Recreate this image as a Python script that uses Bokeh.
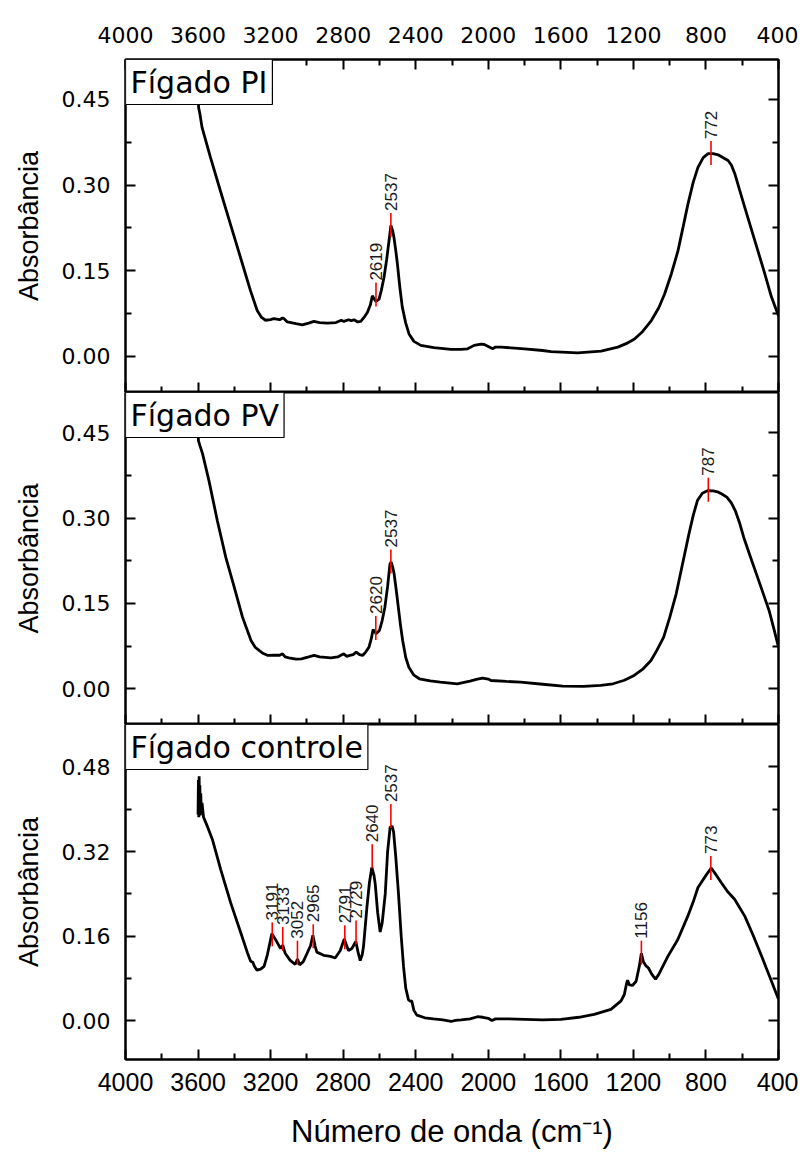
import numpy as np
from bokeh.plotting import figure
from bokeh.models import (Range1d, LinearAxis, FixedTicker, PrintfTickFormatter, Label,
                          CustomLabelingPolicy)
from bokeh.layouts import column
from bokeh.embed import file_html
from bokeh.resources import INLINE
from bokeh.core.properties import value

# ---------------- data ----------------
x_major = [4000, 3600, 3200, 2800, 2400, 2000, 1600, 1200, 800, 400]
x_minor = [3800, 3400, 3000, 2600, 2200, 1800, 1400, 1000, 600]

y_major_a = [0.0, 0.15, 0.30, 0.45]
y_minor_a = [0.075, 0.225, 0.375]
y_major_c = [0.0, 0.16, 0.32, 0.48]
y_minor_c = [0.08, 0.24, 0.40]

names = ["Fígado PI", "Fígado PV", "Fígado controle"]
x_title = "Número de onda (cm⁻¹)"
y_title = "Absorbância"

wn_pi = [3600, 3597, 3590, 3578, 3532, 3477, 3422, 3366, 3311, 3274, 3250, 3228, 3200, 3182,
         3150, 3135, 3127, 3108, 3060, 3025, 2990, 2961, 2930, 2887, 2840, 2810, 2796, 2770,
         2755, 2740, 2720, 2703, 2685, 2666, 2650, 2639, 2628, 2619, 2602, 2590, 2575, 2560,
         2547, 2537, 2527, 2520, 2510, 2501, 2488, 2474, 2455, 2437, 2410, 2372, 2300, 2206,
         2150, 2114, 2078, 2040, 2022, 2000, 1976, 1960, 1930, 1801, 1700, 1654, 1507, 1378,
         1286, 1240, 1194, 1150, 1101, 1060, 1028, 990, 954, 925, 899, 870, 844, 815, 788,
         760, 733, 700, 678, 660, 641, 615, 586, 531, 475, 440, 411, 400]
abs_pi = [0.480, 0.436, 0.425, 0.401, 0.349, 0.290, 0.232, 0.173, 0.115, 0.080, 0.068, 0.063,
          0.064, 0.066, 0.064, 0.067, 0.066, 0.060, 0.057, 0.055, 0.058, 0.061, 0.059, 0.058,
          0.059, 0.063, 0.061, 0.064, 0.062, 0.064, 0.060, 0.061, 0.068, 0.077, 0.090, 0.106,
          0.100, 0.096, 0.100, 0.115, 0.138, 0.170, 0.203, 0.229, 0.220, 0.208, 0.185, 0.162,
          0.122, 0.086, 0.058, 0.039, 0.026, 0.019, 0.015, 0.012, 0.012, 0.013, 0.019, 0.021,
          0.0205, 0.017, 0.013, 0.016, 0.016, 0.013, 0.010, 0.008, 0.006, 0.009, 0.016, 0.022,
          0.030, 0.043, 0.0625, 0.085, 0.109, 0.145, 0.185, 0.228, 0.267, 0.305, 0.331, 0.348,
          0.355, 0.355, 0.353, 0.347, 0.343, 0.335, 0.320, 0.292, 0.261, 0.203, 0.144, 0.105,
          0.080, 0.071]

wn_pv = [3600, 3598, 3590, 3575, 3540, 3494, 3447, 3401, 3355, 3308, 3285, 3262, 3240, 3215,
         3180, 3150, 3134, 3120, 3099, 3060, 3030, 2990, 2960, 2930, 2867, 2830, 2797, 2780,
         2763, 2745, 2728, 2710, 2693, 2675, 2658, 2645, 2635, 2625, 2619, 2600, 2585, 2570,
         2555, 2542, 2535, 2527, 2519, 2508, 2496, 2484, 2472, 2455, 2438, 2410, 2380, 2320,
         2264, 2210, 2171, 2140, 2101, 2060, 2031, 2000, 1985, 1900, 1822, 1700, 1590, 1474,
         1380, 1312, 1250, 1196, 1150, 1103, 1070, 1033, 1000, 964, 930, 894, 870, 847, 820,
         789, 760, 731, 710, 685, 660, 638, 615, 592, 557, 522, 487, 452, 425, 400]
abs_pv = [0.480, 0.4365, 0.428, 0.413, 0.366, 0.296, 0.231, 0.179, 0.126, 0.085, 0.073, 0.067,
          0.062, 0.0586, 0.059, 0.059, 0.0615, 0.056, 0.0545, 0.052, 0.0527, 0.056, 0.0586,
          0.056, 0.0545, 0.056, 0.0615, 0.057, 0.0586, 0.060, 0.0645, 0.060, 0.0586, 0.065,
          0.073, 0.088, 0.104, 0.100, 0.097, 0.1025, 0.120, 0.1435, 0.180, 0.2197, 0.2227,
          0.214, 0.202, 0.175, 0.1435, 0.112, 0.085, 0.055, 0.038, 0.024, 0.0176, 0.014,
          0.0117, 0.010, 0.0088, 0.011, 0.0135, 0.017, 0.0187, 0.017, 0.0146, 0.013, 0.0117,
          0.008, 0.0047, 0.0041, 0.006, 0.0088, 0.015, 0.0234, 0.034, 0.0498, 0.068, 0.0908,
          0.125, 0.167, 0.218, 0.272, 0.305, 0.331, 0.344, 0.3486, 0.348, 0.3457, 0.342, 0.337,
          0.327, 0.313, 0.292, 0.2666, 0.234, 0.202, 0.170, 0.1377, 0.105, 0.073]

wn_ct = [3600, 3598, 3596, 3594, 3592, 3590, 3588, 3585, 3582, 3578, 3570, 3549, 3521, 3475,
         3420, 3365, 3328, 3310, 3298, 3290, 3275, 3255, 3236, 3218, 3193, 3165, 3145, 3133,
         3120, 3092, 3064, 3052, 3040, 3020, 3000, 2980, 2967, 2955, 2945, 2908, 2870, 2844,
         2816, 2794, 2771, 2752, 2730, 2718, 2706, 2695, 2688, 2669, 2655, 2642, 2630, 2623,
         2610, 2596, 2585, 2568, 2555, 2541, 2530, 2522, 2510, 2495, 2480, 2467, 2455, 2440,
         2428, 2422, 2410, 2394, 2350, 2302, 2250, 2205, 2180, 2150, 2100, 2060, 2030, 2000,
         1980, 1960, 1900, 1800, 1700, 1600, 1500, 1416, 1324, 1268, 1250, 1238, 1232, 1222,
         1205, 1185, 1167, 1156, 1145, 1130, 1117, 1098, 1078, 1060, 1047, 1010, 955, 900, 870,
         844, 800, 771, 740, 715, 680, 642, 586, 540, 494, 450, 400]
abs_ct = [0.390, 0.455, 0.385, 0.462, 0.395, 0.445, 0.388, 0.430, 0.392, 0.412, 0.385, 0.368,
          0.343, 0.286, 0.223, 0.167, 0.129, 0.113, 0.111, 0.104, 0.096, 0.098, 0.103, 0.125,
          0.165, 0.149, 0.137, 0.143, 0.128, 0.1145, 0.107, 0.117, 0.106, 0.112, 0.127, 0.142,
          0.162, 0.142, 0.130, 0.124, 0.122, 0.119, 0.133, 0.155, 0.133, 0.137, 0.150, 0.130,
          0.114, 0.125, 0.140, 0.215, 0.262, 0.290, 0.275, 0.258, 0.205, 0.168, 0.185, 0.240,
          0.320, 0.366, 0.368, 0.357, 0.310, 0.240, 0.160, 0.102, 0.062, 0.040, 0.037, 0.038,
          0.020, 0.011, 0.006, 0.004, 0.002, -0.001, 0.001, 0.002, 0.004, 0.008, 0.007, 0.005,
          0.001, 0.004, 0.004, 0.003, 0.002, 0.003, 0.007, 0.0126, 0.022, 0.038, 0.050, 0.070,
          0.077, 0.068, 0.067, 0.075, 0.104, 0.128, 0.112, 0.104, 0.100, 0.088, 0.079, 0.088,
          0.097, 0.122, 0.154, 0.198, 0.225, 0.252, 0.275, 0.289, 0.274, 0.261, 0.244, 0.230,
          0.198, 0.162, 0.123, 0.085, 0.041]

pk_pi_wn = [2619, 2537, 772]
pk_pi_ab = [0.108, 0.230, 0.356]
pk_pi_lb = ["2619", "2537", "772"]

pk_pv_wn = [2620, 2537, 787]
pk_pv_ab = [0.107, 0.224, 0.350]
pk_pv_lb = ["2620", "2537", "787"]

pk_ct_wn = [3191, 3133, 3052, 2965, 2791, 2729, 2640, 2537, 1156, 773]
pk_ct_ab = [0.1635, 0.155, 0.129, 0.160, 0.158, 0.167, 0.311, 0.387, 0.129, 0.289]
pk_ct_lb = ["3191", "3133", "3052", "2965", "2791", "2729", "2640", "2537", "1156", "773"]

HIDE_CODE = "for (const i of indices) { indices.unset(i) }\nreturn indices"


def style_axis(ax, labels, font="DejaVu Sans", size="22px", standoff=14):
    ax.axis_line_width = 2
    ax.axis_line_color = "black"
    ax.major_tick_line_width = 2
    ax.minor_tick_line_width = 2
    ax.major_tick_line_color = "black"
    ax.minor_tick_line_color = "black"
    ax.major_tick_in = 10
    ax.major_tick_out = 0
    ax.minor_tick_in = 6
    ax.minor_tick_out = 0
    if labels:
        ax.major_label_text_font = font
        ax.major_label_text_font_size = size
        ax.major_label_text_color = "black"
        ax.major_label_standoff = standoff
    else:
        ax.major_label_text_font_size = "0px"
        ax.major_label_standoff = 0
        ax.major_label_policy = CustomLabelingPolicy(code=HIDE_CODE)


def make_panel(wn, ab, pwn, pab, plb, name, yr, ymaj, ymin, height, btop, bbot, first, last):
    p = figure(width=798, height=height, x_range=Range1d(4000, 400), y_range=Range1d(*yr),
               output_backend="svg", toolbar_location=None,
               min_border_left=125, min_border_right=20,
               min_border_top=btop, min_border_bottom=bbot)
    p.grid.visible = False
    p.outline_line_color = "black"
    p.outline_line_width = 2
    p.background_fill_color = "white"
    p.border_fill_color = "white"

    p.line(wn, ab, line_color="black", line_width=2.8)
    p.scatter(pwn, pab, marker="dash", angle=np.pi / 2, size=24,
              line_color="red", line_width=1.6)
    p.text(pwn, pab, text=plb, angle=np.pi / 2, text_align="left", text_baseline="middle",
           y_offset=-14, text_font=value("Liberation Sans"), text_font_size="17px",
           text_color="#1a1a1a")

    xt = FixedTicker(ticks=x_major, minor_ticks=x_minor)
    yt = FixedTicker(ticks=ymaj, minor_ticks=ymin)
    yfmt = PrintfTickFormatter(format="%.2f")

    xax = p.xaxis[0]
    xax.ticker = xt
    xax.formatter = PrintfTickFormatter(format="%d")
    if last:
        style_axis(xax, True, font="Liberation Sans", size="25px", standoff=13)
        xax.axis_label = x_title
        xax.axis_label_text_font = "Liberation Sans"
        xax.axis_label_text_font_size = "31px"
        xax.axis_label_text_font_style = "normal"
        xax.axis_label_text_color = "black"
        xax.axis_label_standoff = 20
    else:
        style_axis(xax, False)

    yax = p.yaxis[0]
    yax.ticker = yt
    yax.formatter = yfmt
    style_axis(yax, True, standoff=15)
    yax.axis_label = y_title
    yax.axis_label_text_font = "Liberation Sans"
    yax.axis_label_text_font_size = "27px"
    yax.axis_label_text_font_style = "normal"
    yax.axis_label_text_color = "black"
    yax.axis_label_standoff = 15

    rax = LinearAxis(ticker=FixedTicker(ticks=ymaj, minor_ticks=ymin), formatter=yfmt)
    style_axis(rax, False)
    p.add_layout(rax, "right")

    if first:
        tax = LinearAxis(ticker=FixedTicker(ticks=x_major, minor_ticks=x_minor),
                         formatter=PrintfTickFormatter(format="%d"))
        style_axis(tax, True, standoff=17)
        p.add_layout(tax, "above")

    lab = Label(x=4000, y=yr[1], x_units="data", y_units="data", text=name,
                text_font="DejaVu Sans", text_font_size="30px", text_align="left",
                text_baseline="top", text_color="black", background_fill_color="white",
                border_line_color="black", border_line_width=1.2, padding=5,
                x_offset=0, y_offset=0)
    p.add_layout(lab)
    return p


p1 = make_panel(wn_pi, abs_pi, pk_pi_wn, pk_pi_ab, pk_pi_lb, names[0], (-0.0636, 0.520),
                y_major_a, y_minor_a, 392, 59, 0, True, False)
p2 = make_panel(wn_pv, abs_pv, pk_pv_wn, pk_pv_ab, pk_pv_lb, names[1], (-0.0628, 0.521),
                y_major_a, y_minor_a, 332, 0, 0, False, False)
p3 = make_panel(wn_ct, abs_ct, pk_ct_wn, pk_ct_ab, pk_ct_lb, names[2], (-0.0728, 0.560),
                y_major_c, y_minor_c, 429, 0, 94, False, True)

layout = column(p1, p2, p3, spacing=0)
open("out.html", "w").write(file_html(layout, INLINE))
